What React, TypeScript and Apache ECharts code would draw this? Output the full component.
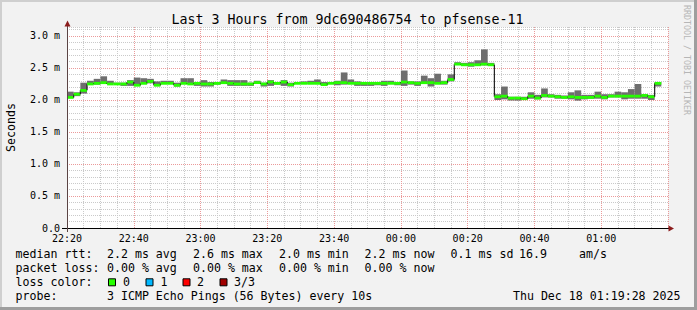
import React, { useEffect, useRef } from "react";
import * as echarts from "echarts";

// ---- data ----
const AXIS_START_MIN = 22 * 60 + 20; // axis origin 22:20
const AXIS_SPAN_MIN = 180;
const STEP_MIN = 2; // RRD consolidation step (minutes)

const medianMs = [
  2.04, 2.09, 2.15, 2.25, 2.26, 2.27, 2.25, 2.25, 2.25, 2.28,
  2.23, 2.26, 2.29, 2.23, 2.26, 2.26, 2.23, 2.26, 2.25, 2.26,
  2.25, 2.25, 2.26, 2.27, 2.26, 2.25, 2.25, 2.25, 2.27, 2.25,
  2.28, 2.26, 2.28, 2.24, 2.26, 2.26, 2.26, 2.26, 2.24, 2.26,
  2.27, 2.27, 2.26, 2.26, 2.26, 2.26, 2.26, 2.26, 2.26, 2.26,
  2.28, 2.27, 2.26, 2.27, 2.27, 2.26, 2.27, 2.32, 2.56, 2.55,
  2.55, 2.55, 2.56, 2.55, 2.05, 2.06, 2.03, 2.03, 2.02, 2.06,
  2.03, 2.07, 2.06, 2.05, 2.04, 2.05, 2.04, 2.04, 2.04, 2.06,
  2.04, 2.06, 2.06, 2.06, 2.06, 2.06, 2.07, 2.05, 2.26,
];
const minMs = [
  2.03, 2.06, 2.10, 2.24, 2.24, 2.25, 2.25, 2.24, 2.22, 2.22,
  2.22, 2.25, 2.26, 2.22, 2.25, 2.25, 2.21, 2.25, 2.25, 2.22,
  2.21, 2.21, 2.24, 2.25, 2.22, 2.22, 2.22, 2.22, 2.25, 2.21,
  2.22, 2.24, 2.22, 2.21, 2.25, 2.25, 2.25, 2.25, 2.22, 2.25,
  2.23, 2.24, 2.25, 2.22, 2.22, 2.22, 2.23, 2.22, 2.25, 2.23,
  2.22, 2.24, 2.22, 2.25, 2.21, 2.25, 2.24, 2.29, 2.55, 2.53,
  2.52, 2.54, 2.54, 2.53, 2.00, 2.01, 1.99, 1.99, 2.01, 2.02,
  2.01, 2.04, 2.04, 2.02, 2.02, 2.01, 1.99, 2.01, 2.02, 2.02,
  2.01, 2.04, 2.04, 2.01, 2.02, 2.02, 2.02, 2.00, 2.21,
];
const maxMs = [
  2.13, 2.12, 2.27, 2.30, 2.33, 2.37, 2.30, 2.27, 2.27, 2.31,
  2.35, 2.34, 2.33, 2.29, 2.30, 2.30, 2.27, 2.34, 2.34, 2.28,
  2.31, 2.28, 2.28, 2.32, 2.31, 2.31, 2.31, 2.27, 2.30, 2.27,
  2.31, 2.28, 2.31, 2.27, 2.28, 2.29, 2.30, 2.32, 2.28, 2.28,
  2.30, 2.43, 2.32, 2.29, 2.28, 2.28, 2.28, 2.30, 2.30, 2.28,
  2.46, 2.29, 2.29, 2.38, 2.34, 2.41, 2.30, 2.40, 2.59, 2.58,
  2.59, 2.62, 2.79, 2.58, 2.09, 2.21, 2.05, 2.05, 2.05, 2.12,
  2.08, 2.18, 2.09, 2.08, 2.07, 2.12, 2.15, 2.08, 2.08, 2.13,
  2.09, 2.09, 2.13, 2.12, 2.17, 2.25, 2.09, 2.08, 2.28,
];

const xTickLabels = ["22:20", "22:40", "23:00", "23:20", "23:40", "00:00", "00:20", "00:40", "01:00"];
const yTickLabels = ["0.0", "0.5 m", "1.0 m", "1.5 m", "2.0 m", "2.5 m", "3.0 m"];

const titleText = "Last 3 Hours from 9dc690486754 to pfsense-11";
const yAxisName = "Seconds";
const rttLabel = "median rtt:";
const rttStats = ["2.2 ms avg", "2.6 ms max", "2.0 ms min", "2.2 ms now", "0.1 ms sd", "16.9", "am/s"];
const lossLabel = "packet loss:";
const lossStats = ["0.00 % avg", "0.00 % max", "0.00 % min", "0.00 % now"];
const lossColorLabel = "loss color:";
const lossColorNames = ["0", "1", "2", "3/3"];
const lossColors = ["#26ff00", "#00b8ff", "#ff0000", "#a10000"];
const probeLabel = "probe:";
const probeText = "3 ICMP Echo Pings (56 Bytes) every 10s";
const stampText = "Thu Dec 18 01:19:28 2025";
const watermarkText = "RRDTOOL / TOBI OETIKER";

// ---- layout / style ----
const W = 697;
const H = 310;
const MONO = '"DejaVu Sans Mono", "Liberation Mono", monospace';
const GRID = { left: 67, top: 27, width: 601, height: 201 };
const Y_MAX = 3.14;
const MAJOR = "#eb9a9a";
const MINOR = "#cacaca";
const SMOKE = "#6e6e6e";
const MEDIAN_LINE = "#202020";
const ARROW = "#8b1c1c";
const statX = [107, 193, 279, 364.6, 450.6, 519, 579];
const rowY = [254.3, 268.3, 282.3, 296.2];
const swatchX = [108.5, 146, 183, 220];
const swatchNameX = [123, 160.6, 197, 234];

export default function App() {
  const ref = useRef<HTMLDivElement>(null);

  useEffect(() => {
    if (!ref.current) return;
    const chart = echarts.init(ref.current, null, { renderer: "svg" });

    const data = medianMs.map((m, k) => [
      k * STEP_MIN,
      minMs[k],
      maxMs[k],
      m,
      k > 0 ? medianMs[k - 1] : m,
    ]);

    const legendFont = `11.6px ${MONO}`;
    const txt = (text: string, x: number, y: number, extra: any = {}) => ({
      type: "text",
      x,
      y,
      z: 10,
      style: { text, font: legendFont, fill: "#000", align: "left", verticalAlign: "middle", ...extra },
    });

    const graphics: any[] = [
      // frame shading
      { type: "rect", z: 1, shape: { x: 0, y: 0, width: W, height: 2 }, style: { fill: "#cfcfcf" } },
      { type: "rect", z: 1, shape: { x: 0, y: 0, width: 2, height: H }, style: { fill: "#cfcfcf" } },
      { type: "rect", z: 1, shape: { x: 0, y: H - 3, width: W, height: 3 }, style: { fill: "#9e9e9e" } },
      { type: "rect", z: 1, shape: { x: W - 3, y: 0, width: 3, height: H }, style: { fill: "#9e9e9e" } },
      // title
      {
        type: "text",
        x: 347.5,
        y: 19.3,
        z: 10,
        style: { text: titleText, font: `13.3px ${MONO}`, fill: "#000", align: "center", verticalAlign: "middle" },
      },
      // y axis name
      {
        type: "text",
        x: 10.5,
        y: 127.5,
        rotation: Math.PI / 2,
        z: 10,
        style: { text: yAxisName, font: legendFont, fill: "#000", align: "center", verticalAlign: "middle" },
      },
      // watermark
      {
        type: "text",
        x: 686.8,
        y: 60,
        rotation: -Math.PI / 2,
        z: 10,
        style: { text: watermarkText, font: `8.3px ${MONO}`, fill: "#b6b6b6", align: "center", verticalAlign: "middle" },
      },
      // axis extensions and arrows
      { type: "line", z: 10, shape: { x1: 62, y1: 228.5, x2: 669, y2: 228.5 }, style: { stroke: "#000", lineWidth: 1 } },
      { type: "line", z: 10, shape: { x1: 67.5, y1: 232, x2: 67.5, y2: 26 }, style: { stroke: "#5b4444", lineWidth: 1 } },
      {
        type: "polygon",
        z: 11,
        shape: { points: [[668.5, 225.5], [674, 228.5], [668.5, 231.5]] },
        style: { fill: ARROW },
      },
      {
        type: "polygon",
        z: 11,
        shape: { points: [[64.5, 26.5], [67.5, 20.5], [70.5, 26.5]] },
        style: { fill: ARROW },
      },
      // legend rows
      txt(rttLabel, 15.6, rowY[0]),
      ...rttStats.map((s, i) => txt(s, statX[i], rowY[0])),
      txt(lossLabel, 15.6, rowY[1]),
      ...lossStats.map((s, i) => txt(s, statX[i], rowY[1])),
      txt(lossColorLabel, 15.6, rowY[2]),
      ...lossColors.map((c, i) => ({
        type: "rect",
        z: 10,
        shape: { x: swatchX[i], y: rowY[2] - 3.5, width: 7, height: 7 },
        style: { fill: c, stroke: "#000", lineWidth: 1 },
      })),
      ...lossColorNames.map((s, i) => txt(s, swatchNameX[i], rowY[2])),
      txt(probeLabel, 15.6, rowY[3]),
      txt(probeText, statX[0], rowY[3]),
      txt(stampText, 680.5, rowY[3], { align: "right" }),
    ];

    const option: any = {
      animation: false,
      backgroundColor: "#f2f2f2",
      grid: {
        ...GRID,
        show: true,
        backgroundColor: "#ffffff",
        borderWidth: 0,
        containLabel: false,
        outerBoundsMode: "none",
      },
      xAxis: {
        type: "value",
        min: 0,
        max: AXIS_SPAN_MIN,
        interval: 5,
        axisLine: { show: false },
        axisTick: { show: false },
        axisLabel: {
          margin: 5,
          fontFamily: MONO,
          fontSize: 10,
          color: "#000",
          showMaxLabel: false,
          formatter: (v: number) => {
            const r = Math.round(v);
            if (r % 20 !== 0) return "";
            const label = xTickLabels[r / 20];
            return label !== undefined ? label : "";
          },
        },
        splitLine: {
          show: true,
          lineStyle: { color: [MAJOR, MINOR, MINOR, MINOR], width: 1, type: [1, 1] },
        },
      },
      yAxis: {
        type: "value",
        min: 0,
        max: Y_MAX,
        interval: 0.1,
        axisLine: { show: false },
        axisTick: { show: false },
        axisLabel: {
          margin: 7,
          fontFamily: MONO,
          fontSize: 10,
          color: "#000",
          formatter: (v: number) => {
            const idx = Math.round(v / 0.5);
            if (Math.abs(v - idx * 0.5) > 1e-6) return "";
            const label = yTickLabels[idx];
            return label !== undefined ? label : "";
          },
        },
        splitLine: {
          show: true,
          lineStyle: { color: [MAJOR, MINOR, MINOR, MINOR, MINOR], width: 1, type: [1, 1] },
        },
      },
      graphic: graphics,
      series: [
        {
          type: "custom",
          clip: true,
          data,
          encode: { x: 0, y: [1, 2, 3] },
          renderItem: (_params: any, api: any) => {
            const t = api.value(0);
            const lo = api.value(1);
            const hi = api.value(2);
            const med = api.value(3);
            const prev = api.value(4);
            const a = api.coord([t, hi]);
            const b = api.coord([t + STEP_MIN, lo]);
            const m0 = api.coord([t, med]);
            const m1 = api.coord([t + STEP_MIN, med]);
            const pp = api.coord([t, prev]);
            return {
              type: "group",
              children: [
                {
                  type: "rect",
                  shape: { x: a[0], y: a[1], width: b[0] - a[0], height: b[1] - a[1] },
                  style: { fill: SMOKE },
                },
                {
                  type: "line",
                  shape: { x1: m0[0], y1: pp[1], x2: m0[0], y2: m0[1] },
                  style: { stroke: MEDIAN_LINE, lineWidth: 1.2 },
                },
                {
                  type: "rect",
                  shape: { x: m0[0], y: m0[1] - 1.4, width: m1[0] - m0[0], height: 2.8 },
                  style: { fill: lossColors[0] },
                },
              ],
            };
          },
        },
      ],
    };

    chart.setOption(option);
    return () => chart.dispose();
  }, []);

  return <div ref={ref} style={{ position: "fixed", left: 0, top: 0, width: W, height: H }} />;
}
